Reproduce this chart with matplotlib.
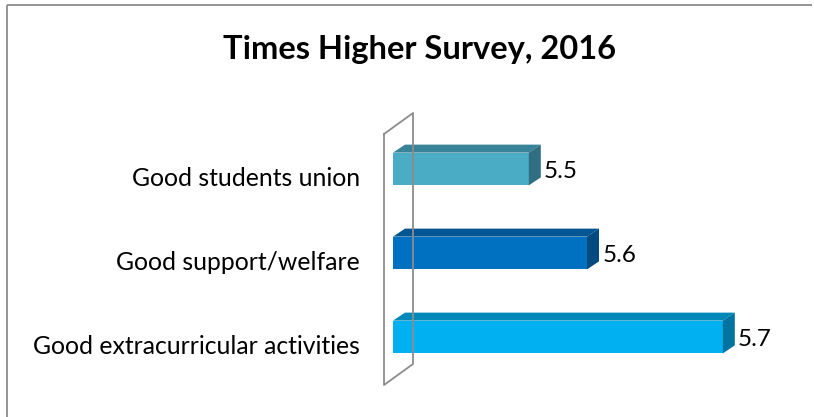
import matplotlib
matplotlib.use("Agg")
import matplotlib.pyplot as plt
from matplotlib.patches import Polygon
from matplotlib.lines import Line2D
import matplotlib.transforms as mtransforms

# =============================================================================
# Data (bottom to top, as Excel draws a bar chart)

categories = ["Good extracurricular activities", "Good support/welfare",
              "Good students union"]
values = [5.7, 5.56, 5.5]
valueLabels = ["5.7", "5.6", "5.5"]
frontColors = ["#00B0F0", "#0070C0", "#4BACC6"]
topColors = ["#0088B8", "#005693", "#388397"]
sideColors = ["#0074A0", "#004A80", "#306F81"]

title = "Times Higher Survey, 2016"

# =============================================================================

W, H = 814, 417
plt.rcParams['font.family'] = ['Lato', 'DejaVu Sans']


def fx(px):
    return px / W


def fy(py):
    return 1 - py / H


def plotBuilder():
    fig = plt.figure(figsize=(W / 100, H / 100), dpi=100)

    # chart area border, only left and top edges are inside the picture
    fig.lines.append(Line2D([fx(7), fx(7)], [fy(417), fy(5)],
                            transform=fig.transFigure, color="#8C8C8C",
                            linewidth=1.3, solid_capstyle="butt"))
    fig.lines.append(Line2D([fx(7), fx(812)], [fy(5), fy(5)],
                            transform=fig.transFigure, color="#8C8C8C",
                            linewidth=1.3, solid_capstyle="butt"))

    # 3D back wall
    wall = [(384, 134), (413, 113), (413, 364), (384, 385), (384, 134)]
    fig.lines.append(Line2D([fx(p[0]) for p in wall], [fy(p[1]) for p in wall],
                            transform=fig.transFigure, color="#8C8C8C",
                            linewidth=1.3))

    ax = fig.add_axes([fx(393), fy(379), fx(388), fy(127) - fy(379)])
    ax.set_xlim(5.36, 5.76)
    ax.set_ylim(-0.5, 2.5)
    ax.axis("off")

    barH = 0.39
    ypos = list(range(len(categories)))
    ax.barh(ypos, [v - 5.36 for v in values], left=5.36, height=barH,
            color=frontColors, edgecolor="none", zorder=3)

    # depth of the 3D bars in pixels
    depthX, depthY = 12, 8
    toPix = ax.transData
    for i, v in enumerate(values):
        x0, y0 = toPix.transform((5.36, ypos[i] - barH / 2))
        x1, y1 = toPix.transform((v, ypos[i] + barH / 2))
        top = [(x0, y1), (x1, y1), (x1 + depthX, y1 + depthY),
               (x0 + depthX, y1 + depthY)]
        side = [(x1, y0), (x1, y1), (x1 + depthX, y1 + depthY),
                (x1 + depthX, y0 + depthY)]
        ax.add_patch(Polygon(top, closed=True, transform=None,
                             facecolor=topColors[i], edgecolor="none",
                             zorder=3))
        ax.add_patch(Polygon(side, closed=True, transform=None,
                             facecolor=sideColors[i], edgecolor="none",
                             zorder=3))

    # value labels to the right of the bars
    valTrans = mtransforms.offset_copy(ax.transData, fig=fig, x=11, y=-2,
                                       units="points")
    for i, v in enumerate(values):
        ax.text(v, ypos[i], valueLabels[i], transform=valTrans, ha="left",
                va="center", fontsize=17.5, color="black", zorder=4)

    # category labels
    catTrans = mtransforms.offset_copy(
        mtransforms.blended_transform_factory(ax.transAxes, ax.transData),
        fig=fig, x=0, y=-6.5, units="points")
    for i, c in enumerate(categories):
        ax.text(fx(360 - 393) * W / 388, ypos[i], c, transform=catTrans,
                ha="right", va="center", fontsize=17.8, color="black")

    fig.text(fx(420), fy(50), title, ha="center", va="center",
             fontsize=23.5, fontweight="bold", color="black")

    plt.savefig("out.png", dpi=100)


# =============================================================================


def main():
    plotBuilder()


if __name__ == '__main__':
    main()
